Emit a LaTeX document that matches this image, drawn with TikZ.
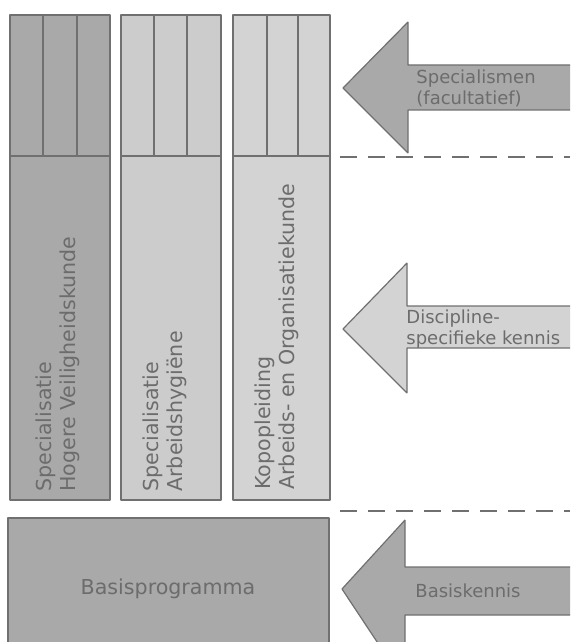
\documentclass[tikz,border=0pt]{standalone}
\usepackage{fontspec}
\setmainfont{DejaVu Sans}
\usetikzlibrary{positioning}

\definecolor{darkgrey}{HTML}{A9A9A9}
\definecolor{lightgrey}{HTML}{CCCCCC}
\definecolor{lightergrey}{HTML}{D3D3D3}
\definecolor{edgegrey}{HTML}{707070}
\definecolor{textgrey}{HTML}{6C6C6C}

\begin{document}
\begin{tikzpicture}[line join=bevel,x=0.5pt,y=-0.5pt,
    font=\fontsize{9}{10.5}\selectfont,
    column/.style={draw=edgegrey,line width=0.7pt},
    divider/.style={draw=edgegrey,line width=0.6pt},
    levelline/.style={draw=edgegrey,line width=1.4pt,dash pattern=on 8.5pt off 5.5pt},
    arrowshape/.style={draw=edgegrey,line width=0.6pt},
    label/.style={text=textgrey,inner sep=0pt,align=left},
    biglabel/.style={label,font=\fontsize{10.3}{12}\selectfont}]
            \useasboundingbox (0,0) rectangle (570,642);
            \clip (0,0) rectangle (570,642);

            % columns: left, right, first and second divider
            \foreach \l/\r/\da/\db/\c in {10/110/43/77/darkgrey,121/221/154/187/lightgrey,233/330/267/298/lightergrey}{
                \draw [column,fill=\c] (\l,15) rectangle (\r,500);
                \draw [divider] (\l,156) -- (\r,156);
                \draw [divider] (\da,15) -- (\da,156);
                \draw [divider] (\db,15) -- (\db,156);
            }

            % basis block
            \draw [column,fill=darkgrey] (8,518) rectangle (329,660);

            % level lines
            \draw [levelline] (340,157) -- (570,157);
            \draw [levelline] (340,511) -- (570,511);

            % arrows
            \coordinate (T1) at (343,88);
            \coordinate (T2) at (343,329);
            \coordinate (T3) at (342,589);
            \draw [arrowshape,fill=darkgrey] (T1) -- ++(65,-66) -- ++(0,43) -- ++(170,0) -- ++(0,45) -- ++(-170,0) -- ++(0,43) -- cycle;
            \draw [arrowshape,fill=lightergrey] (T2) -- ++(64,-66) -- ++(0,43) -- ++(170,0) -- ++(0,42) -- ++(-170,0) -- ++(0,45) -- cycle;
            \draw [arrowshape,fill=darkgrey] (T3) -- ++(63,-69) -- ++(0,47) -- ++(170,0) -- ++(0,48) -- ++(-170,0) -- ++(0,69) -- cycle;

            % texts
            \node [biglabel,rotate=90,anchor=west] (hvk) at (58,492) {Specialisatie\\Hogere Veiligheidskunde};
            \node [biglabel,rotate=90,anchor=west] (ah) at (165,492) {Specialisatie\\Arbeidshygiëne};
            \node [biglabel,rotate=90,anchor=west] (kop) at (277,490) {Kopopleiding\\Arbeids- en Organisatiekunde};
            \node [biglabel] (basis) at (168,589) {Basisprogramma};
            \node [label,anchor=west] (spec) at (416,88) {Specialismen\\(facultatief)};
            \node [label,anchor=west] (disc) at (406,329) {Discipline-\\specifieke kennis};
            \node [label] (bk) at (468,591) {Basiskennis};
        \end{tikzpicture}
\end{document}
